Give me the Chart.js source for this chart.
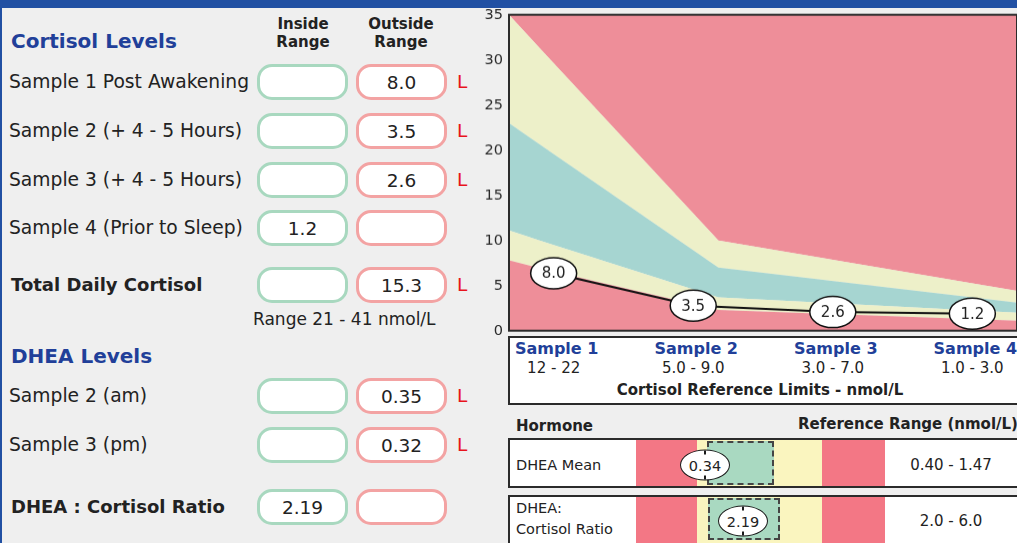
<!DOCTYPE html>
<html>
<head>
<meta charset="utf-8">
<script src="https://cdn.jsdelivr.net/npm/chart.js@4.4.0/dist/chart.umd.min.js"></script>
<style>
  html, body { margin: 0; padding: 0; width: 1017px; height: 543px; overflow: hidden; background: #efefef; }
  body { font-family: "DejaVu Sans", Verdana, sans-serif; color: #222; }
  #page { position: relative; width: 1017px; height: 543px; overflow: hidden; }
  .abs { position: absolute; white-space: nowrap; line-height: 1; }
  .box { position: absolute; box-sizing: border-box; border: 3px solid; border-radius: 15px; background: #fff;
         display: flex; align-items: center; justify-content: center; font-size: 18.5px; }
  .in { border-color: #a8d8bf; }
  .out { border-color: #f3a3a3; }
  .frame { position: absolute; box-sizing: border-box; border: 2px solid #2b2b2b; background: #fff; }
  .zone { position: absolute; }
  .mark { position: absolute; box-sizing: border-box; width: 50px; height: 31px; border: 1.5px solid #1a1a1a;
          border-radius: 50%; background: #fff; display: flex; align-items: center; justify-content: center;
          font-size: 14.5px; transform: translate(-50%, -50%); }
  .mark::before, .mark::after { content: ""; position: absolute; left: 50%; width: 2px; height: 4px; margin-left: -1px; background: #1a1a1a; }
  .mark::before { top: 0; }
  .mark::after { bottom: 0; }
  canvas { position: absolute; left: 470px; top: 0px; }
</style>
</head>
<body>
<div id="page">
  <canvas id="cortisol-chart" width="560" height="345"></canvas>
</div>
<script>
// cortisol samples
const sampleNames = ["Sample 1", "Sample 2", "Sample 3", "Sample 4"];
const sampleLabels = ["Sample 1 Post Awakening", "Sample 2 (+ 4 - 5 Hours)", "Sample 3 (+ 4 - 5 Hours)", "Sample 4 (Prior to Sleep)"];
const cortisol = [8.0, 3.5, 2.6, 1.2];
const refLow = [12, 5.0, 3.0, 1.0];
const refHigh = [22, 9.0, 7.0, 3.0];
const refText = ["12 - 22", "5.0 - 9.0", "3.0 - 7.0", "1.0 - 3.0"];
const totalRange = [21, 41];

// dhea samples
const dheaLabels = ["Sample 2 (am)", "Sample 3 (pm)"];
const dhea = [0.35, 0.32];
const dheaRange = [0.40, 1.47];
const ratioRange = [2.0, 6.0];

// y axis
const yMin = 0, yMax = 35, yStep = 5;

// background reference bands (upper edge of each band)
const bandX = [0.68, 0.96, 2.18, 4.32];
const bandRedLow = [7.8, 6.7, 2.3, 1.1];
const bandYellowLow = [11.1, 9.7, 3.7, 2.0];
const bandTeal = [23.0, 20.0, 7.0, 3.1];
const bandYellowHigh = [35, 30.3, 10.0, 4.4];
const bandRedHigh = [35, 35, 35, 35];

const RED = "#ee8e99", YELLOW = "#edf0c9", TEAL = "#a6d5d1", BLUE = "#213f99";
const page = document.getElementById("page");

function put(text, x, y, style, anchor) {
  const d = document.createElement("div");
  d.className = "abs";
  d.textContent = text;
  d.style.left = x + "px";
  d.style.top = y + "px";
  const tx = anchor === "c" ? "-50%" : anchor === "r" ? "-100%" : "0";
  d.style.transform = "translate(" + tx + ", -50%)";
  Object.assign(d.style, style || {});
  page.appendChild(d);
  return d;
}

function block(cls, x, y, w, h, style) {
  const d = document.createElement("div");
  d.className = cls;
  d.style.left = x + "px";
  d.style.top = y + "px";
  d.style.width = w + "px";
  d.style.height = h + "px";
  Object.assign(d.style, style || {});
  page.appendChild(d);
  return d;
}

// header (cut off at the top of the page) + left edge
const head = block("zone", 0, 0, 1017, 8, { background: "#2150a3", overflow: "hidden" });
const title = document.createElement("div");
title.className = "abs";
title.textContent = "Diurnal Salivary Cortisol & DHEA Testing Report";
Object.assign(title.style, { left: "143px", top: "-21px", color: "#fff", fontSize: "20px", fontWeight: "bold", fontStyle: "italic" });
head.appendChild(title);
block("zone", 0, 0, 2, 543, { background: "#2150a3" });

// left panel
const bold = { fontWeight: "bold" };
put("Cortisol Levels", 11, 41, { fontSize: "20px", fontWeight: "bold", color: BLUE });
put("Inside", 303, 24, { fontSize: "15px", fontWeight: "bold" }, "c");
put("Range", 303, 42, { fontSize: "15px", fontWeight: "bold" }, "c");
put("Outside", 401, 24, { fontSize: "15px", fontWeight: "bold" }, "c");
put("Range", 401, 42, { fontSize: "15px", fontWeight: "bold" }, "c");

function row(label, y, value, lo, hi, digits, isBold) {
  put(label, isBold ? 11 : 9, y, Object.assign({ fontSize: isBold ? "18px" : "18.7px" }, isBold ? bold : {}));
  const inside = value >= lo && value <= hi;
  const a = block("box in", 257, y - 18, 91, 36);
  const b = block("box out", 356, y - 18, 91, 36);
  (inside ? a : b).textContent = value.toFixed(digits);
  if (value < lo) put("L", 457, y, { fontSize: "18.5px", color: "#e8141c" });
  if (value > hi) put("H", 457, y, { fontSize: "18.5px", color: "#e8141c" });
}

const rowY = [82, 131, 180, 228];
cortisol.forEach((v, i) => row(sampleLabels[i], rowY[i], v, refLow[i], refHigh[i], 1, false));
const total = Math.round(cortisol.reduce((s, v) => s + v, 0) * 10) / 10;
row("Total Daily Cortisol", 285, total, totalRange[0], totalRange[1], 1, true);
put("Range " + totalRange[0] + " - " + totalRange[1] + " nmol/L", 253, 319, { fontSize: "17px" });

put("DHEA Levels", 11, 356, { fontSize: "20px", fontWeight: "bold", color: BLUE });
const dheaY = [396, 445];
dhea.forEach((v, i) => row(dheaLabels[i], dheaY[i], v, dheaRange[0], dheaRange[1], 2, false));
const dheaMean = Math.round((dhea[0] + dhea[1]) / 2 * 100 + 1e-6) / 100;
const ratio = Math.round(((dhea[0] + dhea[1]) / 2) / total * 100 * 100) / 100;
row("DHEA : Cortisol Ratio", 507, ratio, ratioRange[0], ratioRange[1], 2, true);

// chart
const pts = (ys) => ys.map((y, i) => ({ x: bandX[i], y: y }));
const band = (ys, color, fill) => ({
  data: pts(ys), backgroundColor: color, borderWidth: 0, pointRadius: 0, fill: fill, yAxisID: "y"
});

const bubbles = {
  id: "bubbles",
  afterDatasetUpdate(chart, args) {
    if (args.index !== 0) return;
    const floor = chart.chartArea.bottom - 17;
    args.meta.data.forEach((p) => { if (p.y > floor) p.y = floor; });
  },
  afterDraw(chart) {
    const ctx = chart.ctx, a = chart.chartArea;
    ctx.save();
    ctx.strokeStyle = "#2b2b2b";
    ctx.lineWidth = 2;
    ctx.strokeRect(a.left, a.top, a.right - a.left, a.bottom - a.top);
    chart.getDatasetMeta(0).data.forEach((p, i) => {
      ctx.beginPath();
      ctx.ellipse(p.x, p.y, 23, 15.5, 0, 0, Math.PI * 2);
      ctx.fillStyle = "#fff";
      ctx.fill();
      ctx.lineWidth = 1.5;
      ctx.strokeStyle = "#111";
      ctx.stroke();
      ctx.fillStyle = "#222";
      ctx.font = '15px "DejaVu Sans"';
      ctx.textAlign = "center";
      ctx.textBaseline = "middle";
      ctx.fillText(cortisol[i].toFixed(1), p.x, p.y + 1);
    });
    ctx.restore();
  }
};

const canvas = document.getElementById("cortisol-chart");
const chart = new Chart(canvas, {
  type: "line",
  data: {
    datasets: [
      {
        data: cortisol.map((v, i) => ({ x: i + 1, y: v })),
        borderColor: "#111", borderWidth: 2, pointRadius: 0, fill: false, yAxisID: "y2"
      },
      band(bandRedLow, RED, "origin"),
      band(bandYellowLow, YELLOW, "-1"),
      band(bandTeal, TEAL, "-1"),
      band(bandYellowHigh, YELLOW, "-1"),
      band(bandRedHigh, RED, "-1")
    ]
  },
  options: {
    responsive: false,
    animation: false,
    devicePixelRatio: 1,
    layout: { padding: { top: 10, right: 12, bottom: 5, left: 0 } },
    plugins: { legend: { display: false }, tooltip: { enabled: false } },
    elements: { line: { tension: 0 } },
    scales: {
      x: { type: "linear", min: 0.68, max: 4.32, display: false },
      y: {
        min: yMin, max: yMax, z: 1,
        ticks: { stepSize: yStep, color: "#2a2a2a", padding: 6, labelOffset: 1, font: { family: "DejaVu Sans", size: 14.5 } },
        grid: { color: "rgba(224,214,234,0.8)", lineWidth: 1, drawTicks: false },
        border: { display: false },
        afterFit(scale) { scale.width = 39; }
      },
      y2: { min: 0, max: 44, display: false }
    }
  },
  plugins: [bubbles]
});

// place the canvas so the plot area sits at x 509..1018, y 15..330
const want = { left: 509, top: 15, right: 1018, bottom: 330 };
let ca = chart.chartArea;
chart.resize(canvas.width + (want.right - want.left) - (ca.right - ca.left),
             canvas.height + (want.bottom - want.top) - (ca.bottom - ca.top));
ca = chart.chartArea;
const canvasLeft = want.left - ca.left;
canvas.style.left = canvasLeft + "px";
canvas.style.top = (want.top - ca.top) + "px";

// sample reference box under the chart
block("frame", 508, 336, 530, 69);
sampleNames.forEach((n, i) => {
  const cx = canvasLeft + chart.scales.x.getPixelForValue(i + 1);
  put(n, cx + 3, 349, { fontSize: "16px", fontWeight: "bold", color: BLUE }, "c");
  put(refText[i], cx, 368, { fontSize: "15px" }, "c");
});
put("Cortisol Reference Limits - nmol/L", 760, 390, { fontSize: "15px", fontWeight: "bold" }, "c");

// dhea gauges
put("Hormone", 516, 426, { fontSize: "15px", fontWeight: "bold" });
put("Reference Range (nmol/L)", 798, 424, { fontSize: "15px", fontWeight: "bold" });

function gauge(top, h, greenL, greenR, gTop, gBot, markX, markY, value, rangeText) {
  block("frame", 508, top, 530, h);
  const zt = top + 2, zh = Math.min(h - 4, 543 - zt);
  block("zone", 636, zt, 61, zh, { background: "#f37785" });
  block("zone", 697, zt, 125, zh, { background: "#faf5bf" });
  block("zone", 822, zt, 63, zh, { background: "#f37785" });
  block("zone", greenL, gTop, greenR - greenL, gBot - gTop,
    { background: "#a9d9c1", border: "2px dashed #444", boxSizing: "border-box" });
  const m = block("mark", markX, markY, 50, 31);
  m.textContent = value;
  put(rangeText, 951, markY, { fontSize: "15px" }, "c");
}

gauge(438, 50, 707, 774, 441, 485, 705, 465, dheaMean.toFixed(2), dheaRange[0].toFixed(2) + " - " + dheaRange[1].toFixed(2));
put("DHEA Mean", 516, 465, { fontSize: "14.5px" });
gauge(495, 60, 708, 780, 498, 540, 743, 521, ratio.toFixed(2), ratioRange[0].toFixed(1) + " - " + ratioRange[1].toFixed(1));
put("DHEA:", 516, 508, { fontSize: "14.5px" });
put("Cortisol Ratio", 516, 529, { fontSize: "14.5px" });
</script>
</body>
</html>
